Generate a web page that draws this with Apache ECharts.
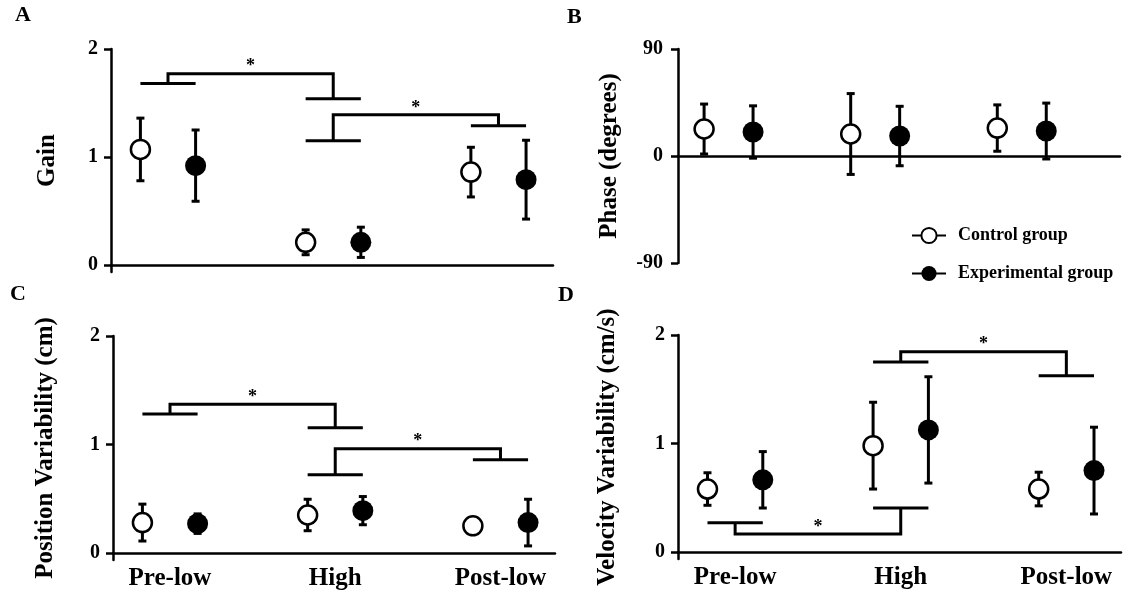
<!DOCTYPE html>
<html>
<head>
<meta charset="utf-8">
<title>Gain, phase and variability by condition</title>
<script src="https://cdn.jsdelivr.net/npm/echarts@6/dist/echarts.min.js"></script>
<style>
  html, body { margin: 0; padding: 0; background: #fff; }
  #chart { width: 1128px; height: 596px; }
</style>
</head>
<body>
<div id="chart"></div>
<script>
// Conditions on the x axis
const categories = ['Pre-low', 'High', 'Post-low'];
const groupPos = [1, 2, 3];

// Tick values
const unitTicks = [0, 1, 2];
const phaseTicks = [-90, 0, 90];

// A: gain (mean, SD)
const gainCtrl = [1.07, 0.21, 0.86];
const gainCtrlSd = [0.29, 0.115, 0.23];
const gainExp = [0.92, 0.21, 0.79];
const gainExpSd = [0.33, 0.14, 0.365];

// B: phase in degrees
const phaseCtrl = [22.7, 18.5, 23.5];
const phaseCtrlSd = [21, 34, 19.5];
const phaseExp = [20.2, 16.8, 21];
const phaseExpSd = [22, 25, 23.5];

// C: position variability (cm)
const posCtrl = [0.28, 0.35, 0.25];
const posCtrlSd = [0.17, 0.145, 0.05];
const posExp = [0.27, 0.39, 0.28];
const posExpSd = [0.09, 0.13, 0.215];

// D: velocity variability (cm/s)
const velCtrl = [0.58, 0.98, 0.58];
const velCtrlSd = [0.15, 0.40, 0.155];
const velExp = [0.665, 1.125, 0.75];
const velExpSd = [0.26, 0.49, 0.40];

// Significance brackets: [group1, level1, group2, level2, joinLevel]
const gainBrackets = [[1, 1.68, 2, 1.54, 1.77], [2, 1.15, 3, 1.29, 1.39]];
const posBrackets = [[1, 1.28, 2, 1.155, 1.37], [2, 0.72, 3, 0.86, 0.96]];
const velBrackets = [[2, 1.75, 3, 1.625, 1.845], [1, 0.27, 2, 0.405, 0.165]];

const FONT = '"Liberation Serif", "Times New Roman", serif';
const HALF = 0.167; // offset of each group's marker from the condition centre

function errorBarItem(params, api) {
    const x = api.value(0), m = api.value(1), s = api.value(2);
    const hi = api.coord([x, m + s]);
    const lo = api.coord([x, m - s]);
    const cap = 4;
    const style = { stroke: '#000', lineWidth: 3 };
    return {
        type: 'group',
        children: [
            { type: 'line', shape: { x1: hi[0], y1: hi[1], x2: lo[0], y2: lo[1] }, style },
            { type: 'line', shape: { x1: hi[0] - cap, y1: hi[1], x2: hi[0] + cap, y2: hi[1] }, style },
            { type: 'line', shape: { x1: lo[0] - cap, y1: lo[1], x2: lo[0] + cap, y2: lo[1] }, style }
        ]
    };
}

function bracketItem(params, api) {
    const g1 = api.value(0), y1 = api.value(1), g2 = api.value(2), y2 = api.value(3), yj = api.value(4);
    const p = (x, y) => api.coord([x, y]);
    const style = { stroke: '#000', lineWidth: 3, fill: null };
    const a = p(g1 - HALF, y1), b = p(g1 + HALF, y1);
    const c = p(g1, y1), d = p(g1, yj), e = p(g2, yj), f = p(g2, y2);
    const g = p(g2 - HALF, y2), h = p(g2 + HALF, y2);
    const mid = p((g1 + g2) / 2, yj);
    return {
        type: 'group',
        children: [
            { type: 'line', shape: { x1: a[0], y1: a[1], x2: b[0], y2: b[1] }, style },
            { type: 'polyline', shape: { points: [c, d, e, f] }, style },
            { type: 'line', shape: { x1: g[0], y1: g[1], x2: h[0], y2: h[1] }, style },
            {
                type: 'text',
                style: {
                    text: '*', x: mid[0], y: mid[1] - 7,
                    align: 'center', verticalAlign: 'middle',
                    textAlign: 'center', textVerticalAlign: 'middle',
                    font: 'bold 18px ' + FONT, fill: '#000'
                }
            }
        ]
    };
}

function panelSeries(idx, ctrl, ctrlSd, exp, expSd, brackets) {
    const ctrlPts = groupPos.map((g, i) => [g - HALF, ctrl[i], ctrlSd[i]]);
    const expPts = groupPos.map((g, i) => [g + HALF, exp[i], expSd[i]]);
    const list = [
        {
            type: 'custom', name: 'err' + idx, xAxisIndex: idx, yAxisIndex: idx, z: 2,
            renderItem: errorBarItem, data: ctrlPts.concat(expPts)
        },
        {
            type: 'scatter', name: 'ctrl' + idx, xAxisIndex: idx, yAxisIndex: idx, z: 5,
            symbol: 'circle', symbolSize: 19,
            itemStyle: { color: '#fff', borderColor: '#000', borderWidth: 2.5, opacity: 1 },
            data: ctrlPts.map(d => [d[0], d[1]])
        },
        {
            type: 'scatter', name: 'exp' + idx, xAxisIndex: idx, yAxisIndex: idx, z: 5,
            symbol: 'circle', symbolSize: 21,
            itemStyle: { color: '#000', opacity: 1 },
            data: expPts.map(d => [d[0], d[1]])
        }
    ];
    if (brackets) {
        list.push({
            type: 'custom', name: 'sig' + idx, xAxisIndex: idx, yAxisIndex: idx, z: 2,
            renderItem: bracketItem, data: brackets
        });
    }
    return list;
}

function xAxisFor(idx, max, withLabels) {
    return {
        type: 'value', gridIndex: idx, min: 0.655, max: max,
        axisLine: { show: true, onZero: true, lineStyle: { color: '#000', width: 2.5 } },
        axisTick: { show: false },
        splitLine: { show: false },
        axisLabel: withLabels ? {
            show: true, customValues: groupPos, margin: 6,
            formatter: v => categories[Math.round(v) - 1],
            color: '#000', fontFamily: FONT, fontWeight: 'bold', fontSize: 25
        } : { show: false }
    };
}

function yAxisFor(idx, name, gap, opts) {
    return Object.assign({
        type: 'value', gridIndex: idx,
        name: name, nameLocation: 'middle', nameGap: gap,
        nameTextStyle: { color: '#000', fontFamily: FONT, fontWeight: 'bold', fontSize: 25 },
        axisLine: { show: true, lineStyle: { color: '#000', width: 2.5 } },
        axisTick: { show: true, length: 7, lineStyle: { color: '#000', width: 2.5 } },
        splitLine: { show: false },
        axisLabel: { margin: 13, color: '#000', fontFamily: FONT, fontWeight: 'bold', fontSize: 20 }
    }, opts);
}

function unitAxis(idx, name, gap) {
    const ax = yAxisFor(idx, name, gap, { min: -0.065, max: 2 });
    ax.axisTick.customValues = unitTicks;
    ax.axisLabel.customValues = unitTicks;
    return ax;
}

const chart = echarts.init(document.getElementById('chart'), null, { renderer: 'canvas' });

const series = []
    .concat(panelSeries(0, gainCtrl, gainCtrlSd, gainExp, gainExpSd, gainBrackets))
    .concat(panelSeries(1, phaseCtrl, phaseCtrlSd, phaseExp, phaseExpSd, null))
    .concat(panelSeries(2, posCtrl, posCtrlSd, posExp, posExpSd, posBrackets))
    .concat(panelSeries(3, velCtrl, velCtrlSd, velExp, velExpSd, velBrackets));

// legend-only series
series.push({
    type: 'line', name: 'Control group', xAxisIndex: 1, yAxisIndex: 1, data: [],
    symbol: 'circle',
    lineStyle: { color: '#000', width: 3 },
    itemStyle: { color: '#fff', borderColor: '#000', borderWidth: 2.5 }
});
series.push({
    type: 'line', name: 'Experimental group', xAxisIndex: 1, yAxisIndex: 1, data: [],
    symbol: 'circle',
    lineStyle: { color: '#000', width: 3 },
    itemStyle: { color: '#000' }
});

const letterStyle = (t) => ({
    text: t, font: 'bold 22px ' + FONT, fill: '#000',
    verticalAlign: 'middle', textVerticalAlign: 'middle'
});

const phaseAxis = yAxisFor(1, 'Phase (degrees)', 56, { min: phaseTicks[0], max: phaseTicks[2], interval: 90 });
phaseAxis.axisLabel.margin = 15;

chart.setOption({
    animation: false,
    backgroundColor: '#fff',
    textStyle: { fontFamily: FONT, color: '#000' },
    grid: [
        { left: 111, top: 49, width: 442, height: 223 },
        { left: 678, top: 49, width: 442, height: 214 },
        { left: 113, top: 336, width: 442, height: 224 },
        { left: 678, top: 335, width: 443, height: 224 }
    ],
    xAxis: [
        xAxisFor(0, 3.33, false),
        xAxisFor(1, 3.67, false),
        xAxisFor(2, 3.33, true),
        xAxisFor(3, 3.33, true)
    ],
    yAxis: [
        unitAxis(0, 'Gain', 51),
        phaseAxis,
        unitAxis(2, 'Position Variability (cm)', 55),
        unitAxis(3, 'Velocity Variability (cm/s)', 58)
    ],
    legend: {
        data: ['Control group', 'Experimental group'],
        orient: 'vertical', left: 906, top: 221.5,
        itemWidth: 34, itemHeight: 19, itemGap: 20,
        selectedMode: false,
        textStyle: { color: '#000', fontFamily: FONT, fontWeight: 'bold', fontSize: 18, padding: [0, 0, 0, 7] }
    },
    graphic: [
        { type: 'text', x: 15, y: 15.5, style: letterStyle('A') },
        { type: 'text', x: 567, y: 17.5, style: letterStyle('B') },
        { type: 'text', x: 10, y: 294.5, style: letterStyle('C') },
        { type: 'text', x: 558, y: 295, style: letterStyle('D') }
    ],
    series: series
});
</script>
</body>
</html>
